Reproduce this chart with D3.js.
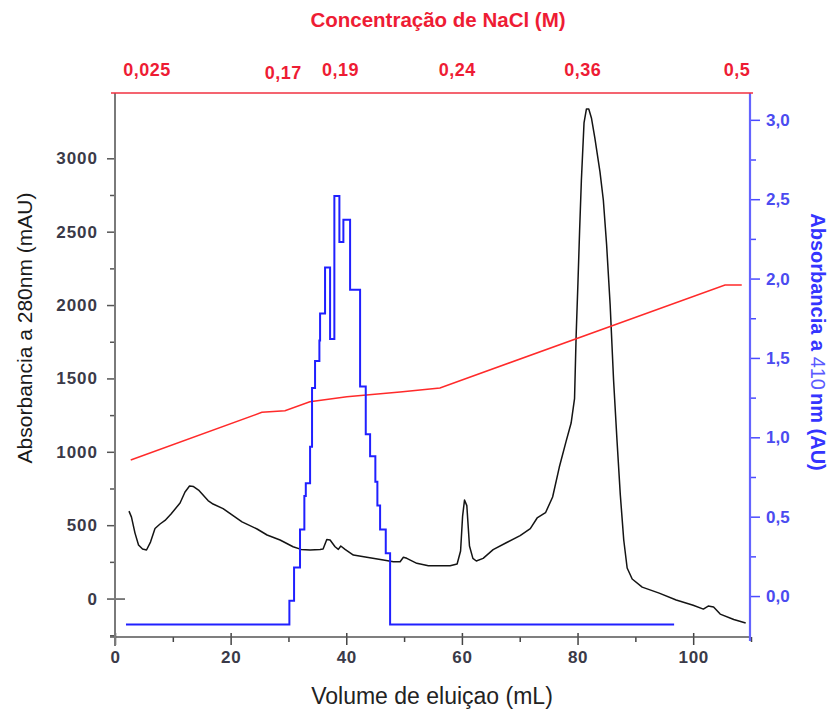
<!DOCTYPE html>
<html>
<head>
<meta charset="utf-8">
<script src="https://cdn.jsdelivr.net/npm/d3@7"></script>
<style>
  html, body { margin: 0; padding: 0; background: #fff; }
  svg { display: block; font-family: "Liberation Sans", Arial, sans-serif; }
</style>
</head>
<body>
<svg id="chart" width="835" height="714"></svg>
<script>
// Elution volume (mL) and absorbance at 280 nm (mAU)
const vol280 = [2.42,2.85,3.46,4.07,4.76,5.45,6.14,6.92,7.79,8.65,9.69,11.25,12.11,12.89,13.58,14.45,16.09,16.96,18.69,21.97,24.57,26.30,28.55,30.80,32.18,33.74,35.47,35.99,36.63,37.20,38.06,38.63,39.05,39.79,41.23,43.55,46.42,48.15,49.31,49.88,50.47,52.20,54.20,57.96,59.17,59.77,60.12,60.45,60.85,61.31,61.90,62.49,63.67,65.40,67.75,70.07,71.83,73.01,74.46,75.69,76.85,78.03,78.89,79.48,79.76,80.07,80.36,80.66,81.12,81.54,81.94,82.40,82.99,83.88,84.46,85.03,85.64,86.23,86.82,87.40,87.99,88.58,89.45,91.18,94.12,97.06,100.0,101.76,102.60,103.53,104.67,107.02,109.08];
const abs280 = [596,555,446,365,337,331,385,477,508,532,576,651,726,767,763,739,668,644,613,523,474,433,399,353,335,331,335,337,403,399,353,335,358,335,296,281,262,251,251,281,274,240,224,224,235,324,562,671,633,358,274,256,274,333,382,429,477,549,585,692,896,1073,1196,1362,1796,2152,2511,2847,3241,3336,3336,3275,3139,2907,2716,2409,2000,1489,1080,705,399,208,133,78,37,-10,-46,-72,-51,-58,-106,-143,-167];

// Fractions read at 410 nm (AU): each value holds from its volume to the next
const vol410 = [1.9,30.16,30.97,32.0,32.75,33.0,33.74,34.08,34.6,35.35,35.47,36.33,37.2,37.94,38.81,39.5,40.66,42.39,43.37,44.12,45.03,45.38,45.85,46.83,47.58,96.7];
const abs410 = [-0.18,-0.03,0.18,0.42,0.63,0.71,0.94,1.31,1.48,1.61,1.78,2.07,1.62,2.52,2.23,2.37,1.93,1.32,1.02,0.88,0.72,0.57,0.42,0.27,-0.18,-0.18];

// NaCl gradient trace, drawn against the left-axis units
const volNaCl = [2.72,25.4,29.4,33.7,40.1,49.3,56.2,105.5,108.4];
const levelNaCl = [944,1269,1280,1341,1375,1407,1435,2137,2137];

// Axis ticks
const xTicks = [0,20,40,60,80,100];
const xMinor = [10,30,50,70,90,110];
const leftTicks = [0,500,1000,1500,2000,2500,3000];
const leftMinor = [-250,250,750,1250,1750,2250,2750];
const rightTicks = [0,0.5,1,1.5,2,2.5,3];
const rightMinor = [0.25,0.75,1.25,1.75,2.25,2.75];

// Top labels: NaCl concentration reached at these volumes
const naclLabels = ["0,025","0,17","0,19","0,24","0,36","0,5"];
const naclVolumes = [5.54,29.1,39.0,59.2,80.9,107.6];

const frame = { left: 115, right: 751, top: 93, bottom: 637 };
const svg = d3.select("#chart");

const x = d3.scaleLinear().domain([0,110]).range([frame.left, frame.right]);
const yL = d3.scaleLinear().domain([-262,3445]).range([frame.bottom, frame.top]);
const yR = d3.scaleLinear().domain([-0.258,3.169]).range([frame.bottom, frame.top]);

const tickFont = "bold 17px 'Liberation Sans', Arial, sans-serif";
const darkLabel = "#3a3a48";

// ---- traces ----
const line280 = d3.line().x(i => x(vol280[i])).y(i => yL(abs280[i]));
svg.append("path")
  .attr("d", line280(d3.range(vol280.length)))
  .attr("fill", "none").attr("stroke", "#141414").attr("stroke-width", 1.5)
  .attr("stroke-linejoin", "round");

const lineNaCl = d3.line().x(i => x(volNaCl[i])).y(i => yL(levelNaCl[i]));
svg.append("path")
  .attr("d", lineNaCl(d3.range(volNaCl.length)))
  .attr("fill", "none").attr("stroke", "#ff2a2a").attr("stroke-width", 1.5);

const line410 = d3.line().curve(d3.curveStepAfter)
  .x(i => x(vol410[i])).y(i => yR(abs410[i]));
svg.append("path")
  .attr("d", line410(d3.range(vol410.length)))
  .attr("fill", "none").attr("stroke", "#2020ff").attr("stroke-width", 2);

// ---- bottom axis ----
const gx = svg.append("g").attr("transform", `translate(0,${frame.bottom})`)
  .call(d3.axisBottom(x).tickValues(xTicks).tickSize(8).tickPadding(6).tickFormat(d3.format("d")));
gx.select(".domain").remove();
gx.selectAll(".tick line").attr("y1", -4).attr("stroke", "#444").attr("stroke-width", 1.5);
gx.selectAll(".tick text").style("font", tickFont).style("letter-spacing", "0.6px").attr("fill", darkLabel);
const gxm = svg.append("g").attr("transform", `translate(0,${frame.bottom})`)
  .call(d3.axisBottom(x).tickValues(xMinor).tickSize(5).tickFormat(""));
gxm.select(".domain").remove();
gxm.selectAll(".tick line").attr("stroke", "#444").attr("stroke-width", 1.5);
svg.append("line")
  .attr("x1", frame.left - 5).attr("x2", frame.right)
  .attr("y1", frame.bottom).attr("y2", frame.bottom)
  .attr("stroke", "#555").attr("stroke-width", 1.5);

// ---- left axis ----
const gl = svg.append("g").attr("transform", `translate(${frame.left},0)`)
  .call(d3.axisLeft(yL).tickValues(leftTicks).tickSize(8).tickPadding(9).tickFormat(d3.format("d")));
gl.select(".domain").remove();
gl.selectAll(".tick line").attr("stroke", "#555").attr("stroke-width", 1.5);
gl.selectAll(".tick").filter(d => d === 0).select("line").attr("x2", 10).attr("x1", -8);
gl.selectAll(".tick text").style("font", tickFont).style("letter-spacing", "1px").attr("fill", darkLabel);
const glm = svg.append("g").attr("transform", `translate(${frame.left},0)`)
  .call(d3.axisLeft(yL).tickValues(leftMinor).tickSize(5).tickFormat(""));
glm.select(".domain").remove();
glm.selectAll(".tick line").attr("stroke", "#555").attr("stroke-width", 1.5);
svg.append("line")
  .attr("x1", frame.left).attr("x2", frame.left)
  .attr("y1", frame.top).attr("y2", frame.bottom + 9)
  .attr("stroke", "#7a7a7a").attr("stroke-width", 2);

// ---- right axis ----
const commaFmt = d => d3.format(".1f")(d).replace(".", ",");
const gr = svg.append("g").attr("transform", `translate(${frame.right - 1},0)`)
  .call(d3.axisRight(yR).tickValues(rightTicks).tickSize(10).tickPadding(6).tickFormat(commaFmt));
gr.select(".domain").remove();
gr.selectAll(".tick line").attr("stroke", "#4b4bff").attr("stroke-width", 1.5);
gr.selectAll(".tick text").style("font", tickFont).attr("fill", "#4b4bf0");
const grm = svg.append("g").attr("transform", `translate(${frame.right - 1},0)`)
  .call(d3.axisRight(yR).tickValues(rightMinor).tickSize(6).tickFormat(""));
grm.select(".domain").remove();
grm.selectAll(".tick line").attr("stroke", "#4b4bff").attr("stroke-width", 1.5);
svg.append("line")
  .attr("x1", frame.right - 1).attr("x2", frame.right - 1)
  .attr("y1", frame.top).attr("y2", frame.bottom + 4)
  .attr("stroke", "#6464ff").attr("stroke-width", 2.2);

// ---- top (NaCl) edge ----
svg.append("line")
  .attr("x1", frame.left - 4).attr("x2", frame.right + 2)
  .attr("y1", frame.top).attr("y2", frame.top)
  .attr("stroke", "#f03040").attr("stroke-width", 1.6);

svg.append("g").selectAll("text")
  .data(naclLabels)
  .join("text")
  .attr("x", (d, i) => x(naclVolumes[i]))
  .attr("y", (d, i) => d === "0,17" ? 79 : 76)
  .attr("text-anchor", "middle")
  .style("font", "bold 18px 'Liberation Sans', Arial, sans-serif")
  .style("letter-spacing", "0.5px")
  .attr("fill", "#ee1c34")
  .text(d => d);

// ---- titles ----
svg.append("text")
  .attr("x", 438).attr("y", 27)
  .attr("text-anchor", "middle")
  .style("font", "bold 20.5px 'Liberation Sans', Arial, sans-serif")
  .attr("fill", "#ee1c34")
  .text("Concentração de NaCl (M)");

svg.append("text")
  .attr("x", 432).attr("y", 704)
  .attr("text-anchor", "middle")
  .style("font", "23px 'Liberation Sans', Arial, sans-serif")
  .attr("fill", "#222")
  .text("Volume de eluiçao (mL)");

svg.append("text")
  .attr("transform", "translate(32,328) rotate(-90)")
  .attr("text-anchor", "middle")
  .style("font", "21px 'Liberation Sans', Arial, sans-serif")
  .attr("fill", "#1a1a1a")
  .text("Absorbancia a 280nm (mAU)");

const rt = svg.append("text")
  .attr("transform", "translate(811,342) rotate(90)")
  .attr("text-anchor", "middle")
  .style("font", "bold 20px 'Liberation Sans', Arial, sans-serif")
  .attr("fill", "#3434ff");
rt.append("tspan").text("Absorbancia a ");
rt.append("tspan").attr("font-weight", "normal").attr("fill", "#5a5aff").text("410");
rt.append("tspan").attr("dx", 3).text("nm (AU)");
</script>
</body>
</html>
